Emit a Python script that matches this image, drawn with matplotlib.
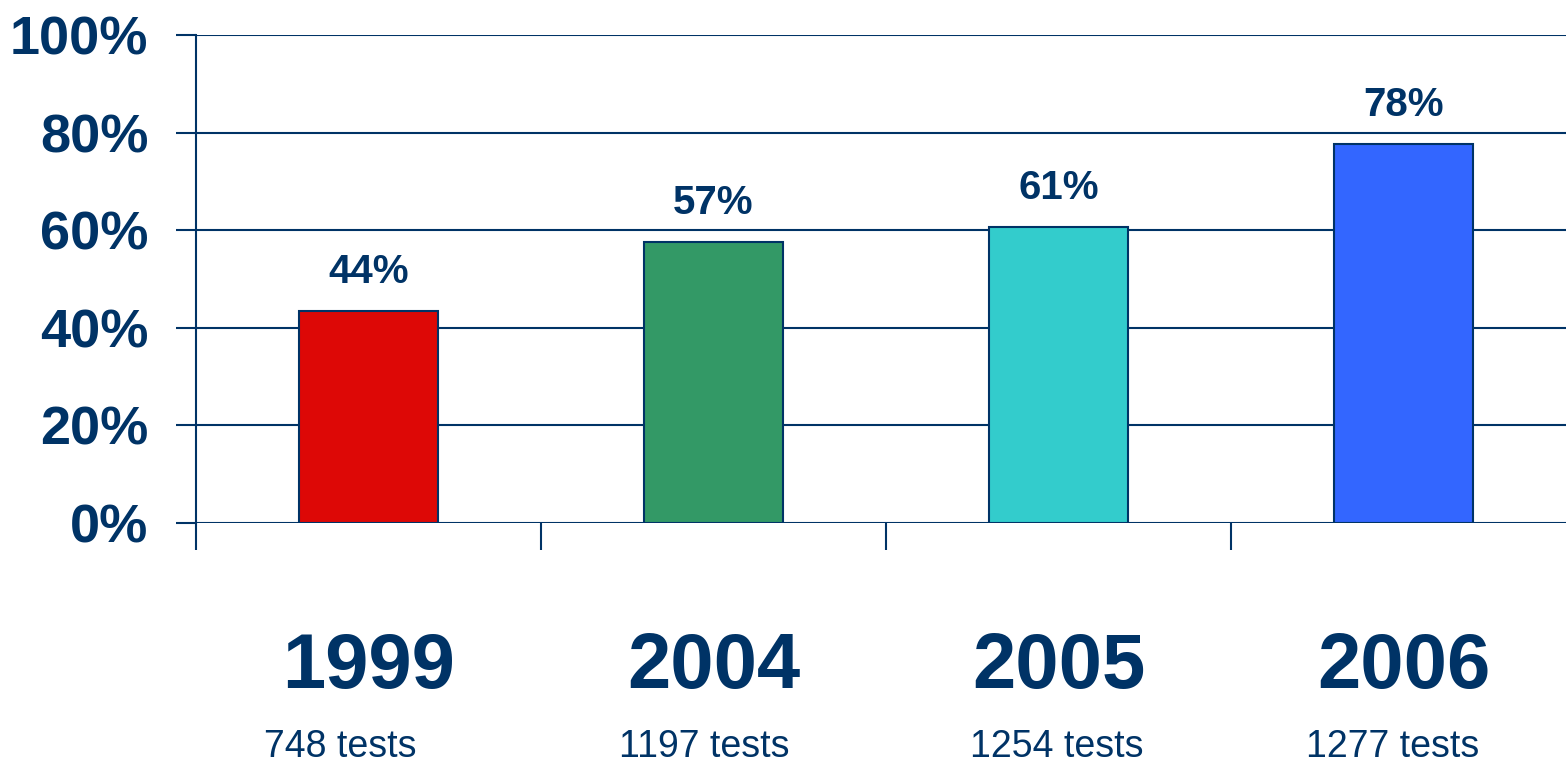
import matplotlib
matplotlib.use("Agg")
import matplotlib.pyplot as plt
from matplotlib import font_manager
from matplotlib.transforms import blended_transform_factory, offset_copy

years = ["1999", "2004", "2005", "2006"]
tests = ["748 tests", "1197 tests", "1254 tests", "1277 tests"]
values = [43.5, 57.6, 60.7, 77.7]
value_labels = ["44%", "57%", "61%", "78%"]
bar_colors = ["#DD0806", "#339966", "#33CCCC", "#3366FF"]
yticks = [0, 20, 40, 60, 80, 100]
ytick_labels = ["0%", "20%", "40%", "60%", "80%", "100%"]

# layout: horizontal nudges (points) of the "tests" captions, as in the reference
tests_dx_pt = [-20, -7, -1, -8]

NAVY = "#003366"


def has_font(name):
    try:
        font_manager.findfont(font_manager.FontProperties(family=name), fallback_to_default=False)
        return True
    except Exception:
        return False


narrow = has_font("Liberation Sans Narrow")
narrow_family = ["Liberation Sans Narrow", "Liberation Sans", "DejaVu Sans"]
main_family = ["Liberation Sans", "DejaVu Sans"]

fig = plt.figure(figsize=(15.66, 7.62), dpi=100)
ax = fig.add_axes([196 / 1566, (762 - 523) / 762, 1380 / 1566, 488 / 762])

x = list(range(len(years)))
ax.bar(x, values, width=0.405, color=bar_colors, edgecolor=NAVY, linewidth=1.5, zorder=3)

ax.set_xlim(-0.5, len(years) - 0.5)
ax.set_ylim(0, 100)
ax.set_yticks(yticks)
ax.set_yticklabels(ytick_labels, family=main_family, fontweight="bold", fontsize=39, color=NAVY)
ax.tick_params(axis="y", direction="out", length=14.4, width=1.5, color=NAVY, pad=20)
ax.set_xticks([i - 0.5 for i in range(len(years) + 1)])
ax.set_xticklabels([])
ax.tick_params(axis="x", direction="out", length=19.4, width=1.5, color=NAVY)

ax.grid(axis="y", color=NAVY, linewidth=1.5, zorder=0)
ax.set_axisbelow(True)
for s in ["top", "right", "bottom"]:
    ax.spines[s].set_visible(False)
ax.spines["left"].set_color(NAVY)
ax.spines["left"].set_linewidth(1.5)

for xi, v, lab in zip(x, values, value_labels):
    ax.annotate(lab, (xi, v), xytext=(0, 20), textcoords="offset points",
                ha="center", va="baseline", fontsize=29, fontweight="bold",
                color=NAVY, family=main_family)

trans = blended_transform_factory(ax.transData, ax.transAxes)
year_size = 67 if narrow else 56
test_size = 31 if narrow else 27
for xi, yr, t, dx in zip(x, years, tests, tests_dx_pt):
    ax.text(xi, -0.338, yr, transform=trans, ha="center", va="baseline",
            fontsize=year_size, fontweight="bold", color=NAVY, family=narrow_family)
    tt = offset_copy(trans, fig=fig, x=dx, y=0, units="points")
    ax.text(xi, -0.479, t, transform=tt, ha="center", va="baseline",
            fontsize=test_size, color=NAVY, family=narrow_family)

fig.savefig("out.png", dpi=100)
